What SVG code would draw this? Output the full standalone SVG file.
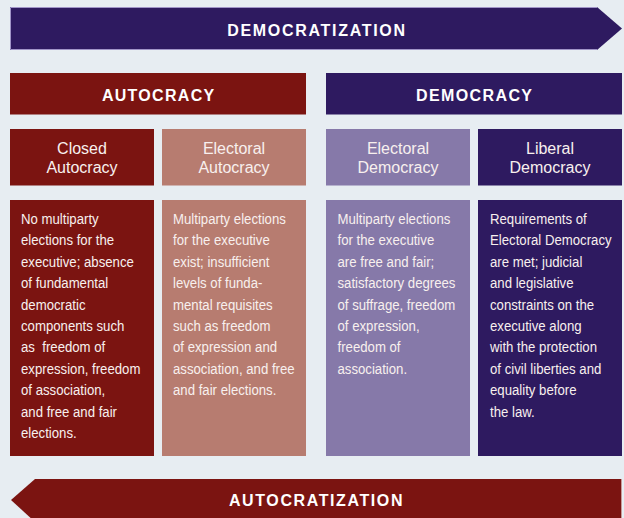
<svg xmlns="http://www.w3.org/2000/svg" width="624" height="518" viewBox="0 0 624 518">
<style>
.bg{fill:#e7edf2}
.red{fill:#7b1411}
.lred{fill:#b77c70}
.lpur{fill:#8679a9}
.pur{fill:#2e1a60}
.big{font-family:"Liberation Sans",Arial,sans-serif;font-weight:bold;font-size:16px;fill:#ffffff;text-anchor:middle}
.sub{font-family:"Liberation Sans",Arial,sans-serif;font-size:16px;fill:#f8f0ee;text-anchor:middle}
.desc{font-family:"Liberation Sans",Arial,sans-serif;font-size:15px;fill:#f8f0ee}
</style>
<rect class="bg" x="0" y="0" width="624" height="518"/>
<g id="democratization">
<polygon class="pur" points="10,7 597,7 622,28.5 597,50 10,50"/>
<polyline points="597,7.5 10.5,7.5 10.5,49.5 597,49.5" fill="none" stroke="#a195c8" stroke-width="1"/>
<text class="big" x="317" y="36" style="letter-spacing:1.7px">DEMOCRATIZATION</text>
</g>
<g id="autocratization">
<polygon class="red" points="11,500 35,479 622,479 622,522 35,522"/>
<line x1="621.5" y1="479" x2="621.5" y2="518" stroke="#c89a98" stroke-width="1"/>
<text class="big" x="316.5" y="506" style="letter-spacing:1.6px">AUTOCRATIZATION</text>
</g>
<g id="autocracy">
<rect class="red" x="10" y="73" width="296" height="41.5"/>
<text class="big" x="158.7" y="101" style="letter-spacing:1.3px">AUTOCRACY</text>
</g>
<g id="democracy">
<rect class="pur" x="326" y="73" width="296" height="41.5"/>
<text class="big" x="474.7" y="101" style="letter-spacing:1.4px">DEMOCRACY</text>
</g>
<g id="closed-autocracy">
<rect class="red" x="10" y="129" width="144" height="56.5"/>
<text class="sub" x="82" y="154">Closed</text>
<text class="sub" x="82" y="172.5">Autocracy</text>
</g>
<g id="electoral-autocracy">
<rect class="lred" x="162" y="129" width="144" height="56.5"/>
<text class="sub" x="234" y="154">Electoral</text>
<text class="sub" x="234" y="172.5">Autocracy</text>
</g>
<g id="electoral-democracy">
<rect class="lpur" x="326" y="129" width="144" height="56.5"/>
<text class="sub" x="398" y="154">Electoral</text>
<text class="sub" x="398" y="172.5">Democracy</text>
</g>
<g id="liberal-democracy">
<rect class="pur" x="478" y="129" width="144" height="56.5"/>
<text class="sub" x="550" y="154">Liberal</text>
<text class="sub" x="550" y="172.5">Democracy</text>
</g>
<g id="closed-autocracy-desc">
<rect class="red" x="10" y="200" width="144" height="256"/>
<g transform="translate(21 224) scale(0.88 1)">
<text class="desc" x="0" y="0">No multiparty</text>
<text class="desc" x="0" y="21.4">elections for the</text>
<text class="desc" x="0" y="42.8">executive; absence</text>
<text class="desc" x="0" y="64.2">of fundamental</text>
<text class="desc" x="0" y="85.6">democratic</text>
<text class="desc" x="0" y="107">components such</text>
<text class="desc" x="0" y="128.4" xml:space="preserve">as  freedom of</text>
<text class="desc" x="0" y="149.8">expression, freedom</text>
<text class="desc" x="0" y="171.2">of association,</text>
<text class="desc" x="0" y="192.6">and free and fair</text>
<text class="desc" x="0" y="214">elections.</text>
</g>
</g>
<g id="electoral-autocracy-desc">
<rect class="lred" x="162" y="200" width="144" height="256"/>
<g transform="translate(173 224) scale(0.88 1)">
<text class="desc" x="0" y="0">Multiparty elections</text>
<text class="desc" x="0" y="21.4">for the executive</text>
<text class="desc" x="0" y="42.8">exist; insufficient</text>
<text class="desc" x="0" y="64.2">levels of funda-</text>
<text class="desc" x="0" y="85.6">mental requisites</text>
<text class="desc" x="0" y="107">such as freedom</text>
<text class="desc" x="0" y="128.4">of expression and</text>
<text class="desc" x="0" y="149.8">association, and free</text>
<text class="desc" x="0" y="171.2">and fair elections.</text>
</g>
</g>
<g id="electoral-democracy-desc">
<rect class="lpur" x="326" y="200" width="144" height="256"/>
<g transform="translate(337.5 224) scale(0.88 1)">
<text class="desc" x="0" y="0">Multiparty elections</text>
<text class="desc" x="0" y="21.4">for the executive</text>
<text class="desc" x="0" y="42.8">are free and fair;</text>
<text class="desc" x="0" y="64.2">satisfactory degrees</text>
<text class="desc" x="0" y="85.6">of suffrage, freedom</text>
<text class="desc" x="0" y="107">of expression,</text>
<text class="desc" x="0" y="128.4">freedom of</text>
<text class="desc" x="0" y="149.8">association.</text>
</g>
</g>
<g id="liberal-democracy-desc">
<rect class="pur" x="478" y="200" width="144" height="256"/>
<g transform="translate(490 224) scale(0.88 1)">
<text class="desc" x="0" y="0">Requirements of</text>
<text class="desc" x="0" y="21.4">Electoral Democracy</text>
<text class="desc" x="0" y="42.8">are met; judicial</text>
<text class="desc" x="0" y="64.2">and legislative</text>
<text class="desc" x="0" y="85.6">constraints on the</text>
<text class="desc" x="0" y="107">executive along</text>
<text class="desc" x="0" y="128.4">with the protection</text>
<text class="desc" x="0" y="149.8">of civil liberties and</text>
<text class="desc" x="0" y="171.2">equality before</text>
<text class="desc" x="0" y="192.6">the law.</text>
</g>
</g>
<g id="connectors"></g>
</svg>
